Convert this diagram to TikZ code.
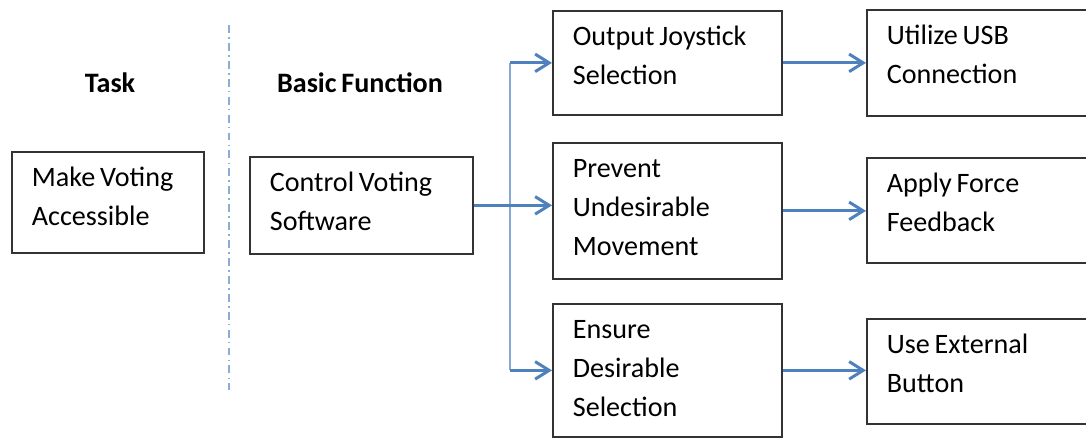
\documentclass[tikz,border=0pt]{standalone}
\usepackage{fontspec}
\setmainfont{Carlito}[WordSpace=0.75]
\usepackage{xcolor}
\usepackage{tikz}
\usetikzlibrary{arrows, arrows.meta}
\usetikzlibrary{positioning}
\usetikzlibrary{calc}

\definecolor{flowblue}{RGB}{79,129,189}
\definecolor{trunkblue}{RGB}{135,168,212}
\definecolor{sepblue}{RGB}{140,172,214}

\tikzset{
	blk/.style={draw=black!80, line width=1pt, anchor=north west, align=flush left,
		inner xsep=0.4cm, inner ysep=0pt, text height=0.7cm,
		font=\fontsize{16}{22}\selectfont},
	head/.style={font=\fontsize{16}{22}\selectfont\bfseries},
	flow/.style={draw=flowblue, line width=1.7pt, -{Straight Barb[length=8pt, width=10pt, line width=1.7pt]}},
}

\begin{document}
\begin{tikzpicture}[x=0.02cm, y=-0.02cm]
	\newcommand\trunkX{510}
	\useasboundingbox (0,0) rectangle (1086,438);
	\clip (0,0) rectangle (1086,438);
	% column heads and separator
	\node[head] (task) at (110,83) {Task};
	\node[head] (func) at (360,83) {Basic Function};
	\draw[sepblue, line width=1.5pt, dash pattern=on 4.5pt off 2.4pt on 0.9pt off 2.4pt] (229,25) -- (229,390);
	% boxes
	\node[blk, text width=3.04cm, text depth=1.32cm] (make) at (11,151) {Make Voting\\Accessible};
	\node[blk, text width=3.66cm, text depth=1.24cm] (ctrl) at (249,156) {Control Voting\\Software};
	\node[blk, text width=3.78cm, text depth=1.38cm] (outp) at (552,10) {Output Joystick\\Selection};
	\node[blk, text width=3.78cm, text depth=2.02cm] (prev) at (552,142) {Prevent\\Undesirable\\Movement};
	\node[blk, text width=3.78cm, text depth=1.96cm] (ensr) at (552,303) {Ensure\\Desirable\\Selection};
	\node[blk, text width=4.08cm, text depth=1.42cm] (usb) at (866,9) {Utilize USB\\Connection};
	\node[blk, text width=4.08cm, text depth=1.40cm] (force) at (866,157) {Apply Force\\Feedback};
	\node[blk, text width=4.08cm, text depth=1.40cm] (button) at (866,318) {Use External\\Button};
	% connectors
	\coordinate (trunk) at (\trunkX,0);
	\draw[trunkblue, line width=1.3pt] (outp.west -| trunk) -- (ensr.west -| trunk);
	\draw[flow] (ctrl.east) -- (ctrl.east -| prev.west);
	\draw[flow] (outp.west -| trunk) -- (outp.west);
	\draw[flow] (ensr.west -| trunk) -- (ensr.west);
	\draw[flow] (outp.east) -- (outp.east -| usb.west);
	\draw[flow] (prev.east) -- (prev.east -| force.west);
	\draw[flow] (ensr.east) -- (ensr.east -| button.west);
\end{tikzpicture}
\end{document}
